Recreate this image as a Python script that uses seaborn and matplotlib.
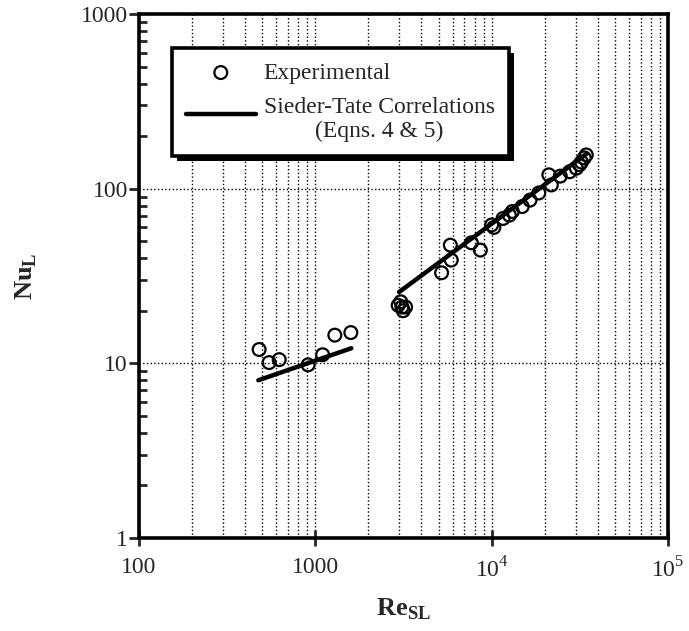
import numpy as np
import pandas as pd
import matplotlib
matplotlib.use('Agg')
import matplotlib.pyplot as plt
import matplotlib.ticker as mticker
from matplotlib.patches import Rectangle
from matplotlib.transforms import IdentityTransform
import seaborn as sns

# experimental points, laminar range
re_low = [480, 547, 624, 910, 1100, 1290, 1590]
nu_low = [12.0, 10.1, 10.5, 9.8, 11.2, 14.5, 15.0]

# experimental points, turbulent range
re_high = [2950, 3050, 3100, 3150, 3250, 5200, 5830, 5900, 7670, 8630,
           10000, 10300, 11600, 12600, 13100, 14900, 16500, 18500,
           21100, 21800, 24500, 27700, 30200, 31500, 32300, 33500, 34400]
nu_high = [21.5, 22.5, 21.0, 20.0, 21.0, 33.0, 47.5, 39.0, 49.0, 44.5,
           62.0, 60.0, 67.5, 70.5, 74.0, 79.0, 86.0, 94.5,
           120.0, 105.0, 118.0, 125.0, 131.0, 137.0, 142.0, 150.0, 156.0]

# Sieder-Tate correlation lines (end points)
st_low_re = [475, 1600]
st_low_nu = [8.0, 12.2]
st_high_re = [2985, 34700]
st_high_nu = [25.6, 159.0]

x_ticks = [100, 1000, 1e4, 1e5]
x_labels = ['100', '1000', r'$10^4$', r'$10^5$']
y_ticks = [1, 10, 100, 1000]
y_labels = ['1', '10', '100', '1000']

sns.set_style('white')
plt.rcParams['font.family'] = ['Liberation Serif', 'DejaVu Serif']
plt.rcParams['mathtext.fontset'] = 'custom'
plt.rcParams['mathtext.rm'] = 'Liberation Serif'
plt.rcParams['mathtext.bf'] = 'Liberation Serif:bold'

exp = pd.DataFrame({'Re': re_low + re_high, 'Nu': nu_low + nu_high})
st_label = 'Sieder-Tate Correlations\n(Eqns. 4 & 5)'

fig = plt.figure(figsize=(6.89, 6.31), dpi=100)
ax = fig.add_axes([139 / 689, 93 / 631, 529 / 689, 524 / 631])

sns.lineplot(x=st_low_re, y=st_low_nu, color='black', lw=3.2, ax=ax,
             label=st_label)
sns.lineplot(x=st_high_re, y=st_high_nu, color='black', lw=3.2, ax=ax)
sns.scatterplot(data=exp, x='Re', y='Nu', marker='o', s=85,
                facecolors='none', edgecolor='black', linewidth=1.6,
                ax=ax, label='Experimental', zorder=3)

ax.set_xscale('log')
ax.set_yscale('log')
ax.set_xlim(100, 1e5)
ax.set_ylim(1, 1000)

ax.xaxis.set_major_locator(mticker.FixedLocator(x_ticks))
ax.xaxis.set_major_formatter(mticker.FixedFormatter(x_labels))
ax.yaxis.set_major_locator(mticker.FixedLocator(y_ticks))
ax.yaxis.set_major_formatter(mticker.FixedFormatter(y_labels))
ax.xaxis.set_minor_locator(mticker.LogLocator(subs=np.arange(2, 10)))
ax.yaxis.set_minor_locator(mticker.LogLocator(subs=np.arange(2, 10)))
ax.xaxis.set_minor_formatter(mticker.NullFormatter())
ax.yaxis.set_minor_formatter(mticker.NullFormatter())

# dotted grid: all vertical lines, only major horizontal lines
ax.grid(which='both', axis='x', color='black', ls=':', lw=1.0)
ax.grid(which='major', axis='y', color='black', ls=':', lw=1.0)

ax.tick_params(axis='x', which='major', bottom=True, direction='inout',
               length=12, width=2, labelsize=17, pad=8)
ax.tick_params(axis='x', which='minor', bottom=False, length=0)
ax.tick_params(axis='y', which='major', left=True, direction='out',
               length=7, width=2, labelsize=17, pad=1)
ax.tick_params(axis='y', which='minor', left=True, direction='in',
               length=6, width=2)
for sp in ax.spines.values():
    sp.set_linewidth(2.6)
    sp.set_color('black')

ax.set_xlabel(r'$\mathbf{Re}_{\mathbf{SL}}$', fontsize=19, labelpad=10)
ax.set_ylabel(r'$\mathbf{Nu}_{\mathbf{L}}$', fontsize=19, labelpad=30)

handles, labels = ax.get_legend_handles_labels()
order = [labels.index('Experimental'), labels.index(st_label)]
leg = ax.legend([handles[i] for i in order], [labels[i] for i in order],
                loc='upper left', bbox_to_anchor=(0.062, 0.935),
                borderaxespad=0, fontsize=17, frameon=True, fancybox=False,
                edgecolor='black', framealpha=1, handlelength=2.95,
                borderpad=0.6, labelspacing=0.55, handletextpad=0.34)
leg.get_frame().set_linewidth(2.6)
leg.set_zorder(6)
for t in leg.get_texts():
    t.set_multialignment('center')
# raise the correlation line in the key to sit beside the first text line
for ln in leg.get_lines():
    if ln.get_linestyle() != 'None' and ln.get_marker() in ('None', '', None):
        ln.set_ydata(np.asarray(ln.get_ydata(), float) + 4)

# drop shadow behind the legend box
fig.canvas.draw()
bb = leg.get_window_extent()
ax.add_patch(Rectangle((bb.x0 + 5, bb.y0 - 5), bb.width, bb.height,
                       transform=IdentityTransform(), facecolor='black',
                       edgecolor='none', zorder=5.5, clip_on=False))

fig.savefig('out.png', dpi=100)
